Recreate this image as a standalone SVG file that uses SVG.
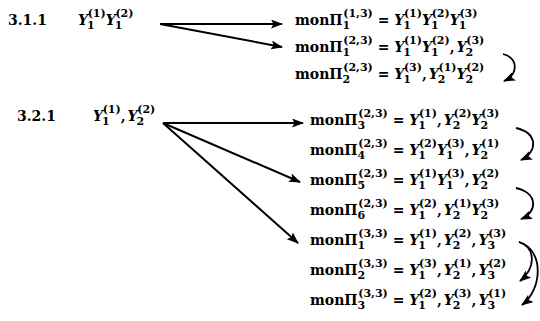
<svg xmlns="http://www.w3.org/2000/svg" width="540" height="321" viewBox="0 0 540 321">
<style>
.t{font-family:"DejaVu Serif",serif;font-weight:bold;font-size:14px;fill:#000}
.i{font-style:italic}
.s{font-size:11px}
.ln{fill:none;stroke:#000;stroke-width:2}
.cv{fill:none;stroke:#000;stroke-width:1.8}
</style>
<defs>
<marker id="ah" markerUnits="userSpaceOnUse" markerWidth="12" markerHeight="9" refX="11" refY="4.5" orient="auto">
<path d="M0,0 L12,4.5 L0,9 L2.5,4.5 z" fill="#000"/>
</marker>
</defs>
<rect width="540" height="321" fill="#fff"/>
<g id="label-311"><text class="t" x="8" y="25">3.1.1</text></g>
<g id="src-311"><text class="t" x="78" y="25"><tspan class="i">Y</tspan><tspan class="s" dx="-1" dy="4">1</tspan><tspan class="s" dx="-7" dy="-12">(1)</tspan><tspan class="i" dy="8">Y</tspan><tspan class="s" dx="-1" dy="4">1</tspan><tspan class="s" dx="-7" dy="-12">(2)</tspan></text></g>
<g id="label-321"><text class="t" x="17" y="121">3.2.1</text></g>
<g id="src-321"><text class="t" x="93" y="121"><tspan class="i">Y</tspan><tspan class="s" dx="-1" dy="4">1</tspan><tspan class="s" dx="-7" dy="-12">(1)</tspan><tspan dy="8">,</tspan><tspan class="i" dx="2">Y</tspan><tspan class="s" dx="-1" dy="4">2</tspan><tspan class="s" dx="-7" dy="-12">(2)</tspan></text></g>

<g id="r1"><text class="t" x="295" y="25">monΠ<tspan class="s" dy="4">1</tspan><tspan class="s" dx="-7" dy="-12">(1,3)</tspan><tspan dy="8"> = </tspan><tspan class="i">Y</tspan><tspan class="s" dx="-1" dy="4">1</tspan><tspan class="s" dx="-7" dy="-12">(1)</tspan><tspan class="i" dy="8">Y</tspan><tspan class="s" dx="-1" dy="4">1</tspan><tspan class="s" dx="-7" dy="-12">(2)</tspan><tspan class="i" dy="8">Y</tspan><tspan class="s" dx="-1" dy="4">1</tspan><tspan class="s" dx="-7" dy="-12">(3)</tspan></text></g>
<g id="r2"><text class="t" x="295" y="52">monΠ<tspan class="s" dy="4">1</tspan><tspan class="s" dx="-7" dy="-12">(2,3)</tspan><tspan dy="8"> = </tspan><tspan class="i">Y</tspan><tspan class="s" dx="-1" dy="4">1</tspan><tspan class="s" dx="-7" dy="-12">(1)</tspan><tspan class="i" dy="8">Y</tspan><tspan class="s" dx="-1" dy="4">1</tspan><tspan class="s" dx="-7" dy="-12">(2)</tspan><tspan dy="8">,</tspan><tspan class="i" dx="2">Y</tspan><tspan class="s" dx="-1" dy="4">2</tspan><tspan class="s" dx="-7" dy="-12">(3)</tspan></text></g>
<g id="r3"><text class="t" x="295" y="79">monΠ<tspan class="s" dy="4">2</tspan><tspan class="s" dx="-7" dy="-12">(2,3)</tspan><tspan dy="8"> = </tspan><tspan class="i">Y</tspan><tspan class="s" dx="-1" dy="4">1</tspan><tspan class="s" dx="-7" dy="-12">(3)</tspan><tspan dy="8">,</tspan><tspan class="i" dx="2">Y</tspan><tspan class="s" dx="-1" dy="4">2</tspan><tspan class="s" dx="-7" dy="-12">(1)</tspan><tspan class="i" dy="8">Y</tspan><tspan class="s" dx="-1" dy="4">2</tspan><tspan class="s" dx="-7" dy="-12">(2)</tspan></text></g>

<g id="r4"><text class="t" x="310" y="125">monΠ<tspan class="s" dy="4">3</tspan><tspan class="s" dx="-7" dy="-12">(2,3)</tspan><tspan dy="8"> = </tspan><tspan class="i">Y</tspan><tspan class="s" dx="-1" dy="4">1</tspan><tspan class="s" dx="-7" dy="-12">(1)</tspan><tspan dy="8">,</tspan><tspan class="i" dx="2">Y</tspan><tspan class="s" dx="-1" dy="4">2</tspan><tspan class="s" dx="-7" dy="-12">(2)</tspan><tspan class="i" dy="8">Y</tspan><tspan class="s" dx="-1" dy="4">2</tspan><tspan class="s" dx="-7" dy="-12">(3)</tspan></text></g>
<g id="r5"><text class="t" x="310" y="155">monΠ<tspan class="s" dy="4">4</tspan><tspan class="s" dx="-7" dy="-12">(2,3)</tspan><tspan dy="8"> = </tspan><tspan class="i">Y</tspan><tspan class="s" dx="-1" dy="4">1</tspan><tspan class="s" dx="-7" dy="-12">(2)</tspan><tspan class="i" dy="8">Y</tspan><tspan class="s" dx="-1" dy="4">1</tspan><tspan class="s" dx="-7" dy="-12">(3)</tspan><tspan dy="8">,</tspan><tspan class="i" dx="2">Y</tspan><tspan class="s" dx="-1" dy="4">2</tspan><tspan class="s" dx="-7" dy="-12">(1)</tspan></text></g>
<g id="r6"><text class="t" x="310" y="185">monΠ<tspan class="s" dy="4">5</tspan><tspan class="s" dx="-7" dy="-12">(2,3)</tspan><tspan dy="8"> = </tspan><tspan class="i">Y</tspan><tspan class="s" dx="-1" dy="4">1</tspan><tspan class="s" dx="-7" dy="-12">(1)</tspan><tspan class="i" dy="8">Y</tspan><tspan class="s" dx="-1" dy="4">1</tspan><tspan class="s" dx="-7" dy="-12">(3)</tspan><tspan dy="8">,</tspan><tspan class="i" dx="2">Y</tspan><tspan class="s" dx="-1" dy="4">2</tspan><tspan class="s" dx="-7" dy="-12">(2)</tspan></text></g>
<g id="r7"><text class="t" x="310" y="215">monΠ<tspan class="s" dy="4">6</tspan><tspan class="s" dx="-7" dy="-12">(2,3)</tspan><tspan dy="8"> = </tspan><tspan class="i">Y</tspan><tspan class="s" dx="-1" dy="4">1</tspan><tspan class="s" dx="-7" dy="-12">(2)</tspan><tspan dy="8">,</tspan><tspan class="i" dx="2">Y</tspan><tspan class="s" dx="-1" dy="4">2</tspan><tspan class="s" dx="-7" dy="-12">(1)</tspan><tspan class="i" dy="8">Y</tspan><tspan class="s" dx="-1" dy="4">2</tspan><tspan class="s" dx="-7" dy="-12">(3)</tspan></text></g>
<g id="r8"><text class="t" x="310" y="245">monΠ<tspan class="s" dy="4">1</tspan><tspan class="s" dx="-7" dy="-12">(3,3)</tspan><tspan dy="8"> = </tspan><tspan class="i">Y</tspan><tspan class="s" dx="-1" dy="4">1</tspan><tspan class="s" dx="-7" dy="-12">(1)</tspan><tspan dy="8">,</tspan><tspan class="i" dx="2">Y</tspan><tspan class="s" dx="-1" dy="4">2</tspan><tspan class="s" dx="-7" dy="-12">(2)</tspan><tspan dy="8">,</tspan><tspan class="i" dx="2">Y</tspan><tspan class="s" dx="-1" dy="4">3</tspan><tspan class="s" dx="-7" dy="-12">(3)</tspan></text></g>
<g id="r9"><text class="t" x="310" y="275">monΠ<tspan class="s" dy="4">2</tspan><tspan class="s" dx="-7" dy="-12">(3,3)</tspan><tspan dy="8"> = </tspan><tspan class="i">Y</tspan><tspan class="s" dx="-1" dy="4">1</tspan><tspan class="s" dx="-7" dy="-12">(3)</tspan><tspan dy="8">,</tspan><tspan class="i" dx="2">Y</tspan><tspan class="s" dx="-1" dy="4">2</tspan><tspan class="s" dx="-7" dy="-12">(1)</tspan><tspan dy="8">,</tspan><tspan class="i" dx="2">Y</tspan><tspan class="s" dx="-1" dy="4">3</tspan><tspan class="s" dx="-7" dy="-12">(2)</tspan></text></g>
<g id="r10"><text class="t" x="310" y="305">monΠ<tspan class="s" dy="4">3</tspan><tspan class="s" dx="-7" dy="-12">(3,3)</tspan><tspan dy="8"> = </tspan><tspan class="i">Y</tspan><tspan class="s" dx="-1" dy="4">1</tspan><tspan class="s" dx="-7" dy="-12">(2)</tspan><tspan dy="8">,</tspan><tspan class="i" dx="2">Y</tspan><tspan class="s" dx="-1" dy="4">2</tspan><tspan class="s" dx="-7" dy="-12">(3)</tspan><tspan dy="8">,</tspan><tspan class="i" dx="2">Y</tspan><tspan class="s" dx="-1" dy="4">3</tspan><tspan class="s" dx="-7" dy="-12">(1)</tspan></text></g>

<g id="connectors">
<path class="ln" d="M160,24 L282,24" marker-end="url(#ah)"/>
<path class="ln" d="M160,24 L282,47" marker-end="url(#ah)"/>
<path class="ln" d="M163,123 L303,123" marker-end="url(#ah)"/>
<path class="ln" d="M163,123 L300,182" marker-end="url(#ah)"/>
<path class="ln" d="M163,123 L298,243" marker-end="url(#ah)"/>
<path class="cv" d="M503,54 C518,58 519,74 504,81" marker-end="url(#ah)"/>
<path class="cv" d="M516,128 C538,133 538,152 521,160" marker-end="url(#ah)"/>
<path class="cv" d="M516,188 C538,193 538,212 521,219" marker-end="url(#ah)"/>
<path class="cv" d="M519,242 C536,248 536,268 520,281" marker-end="url(#ah)"/>
<path class="cv" d="M519,242 C545,250 542,290 522,305" marker-end="url(#ah)"/>
</g>
</svg>
